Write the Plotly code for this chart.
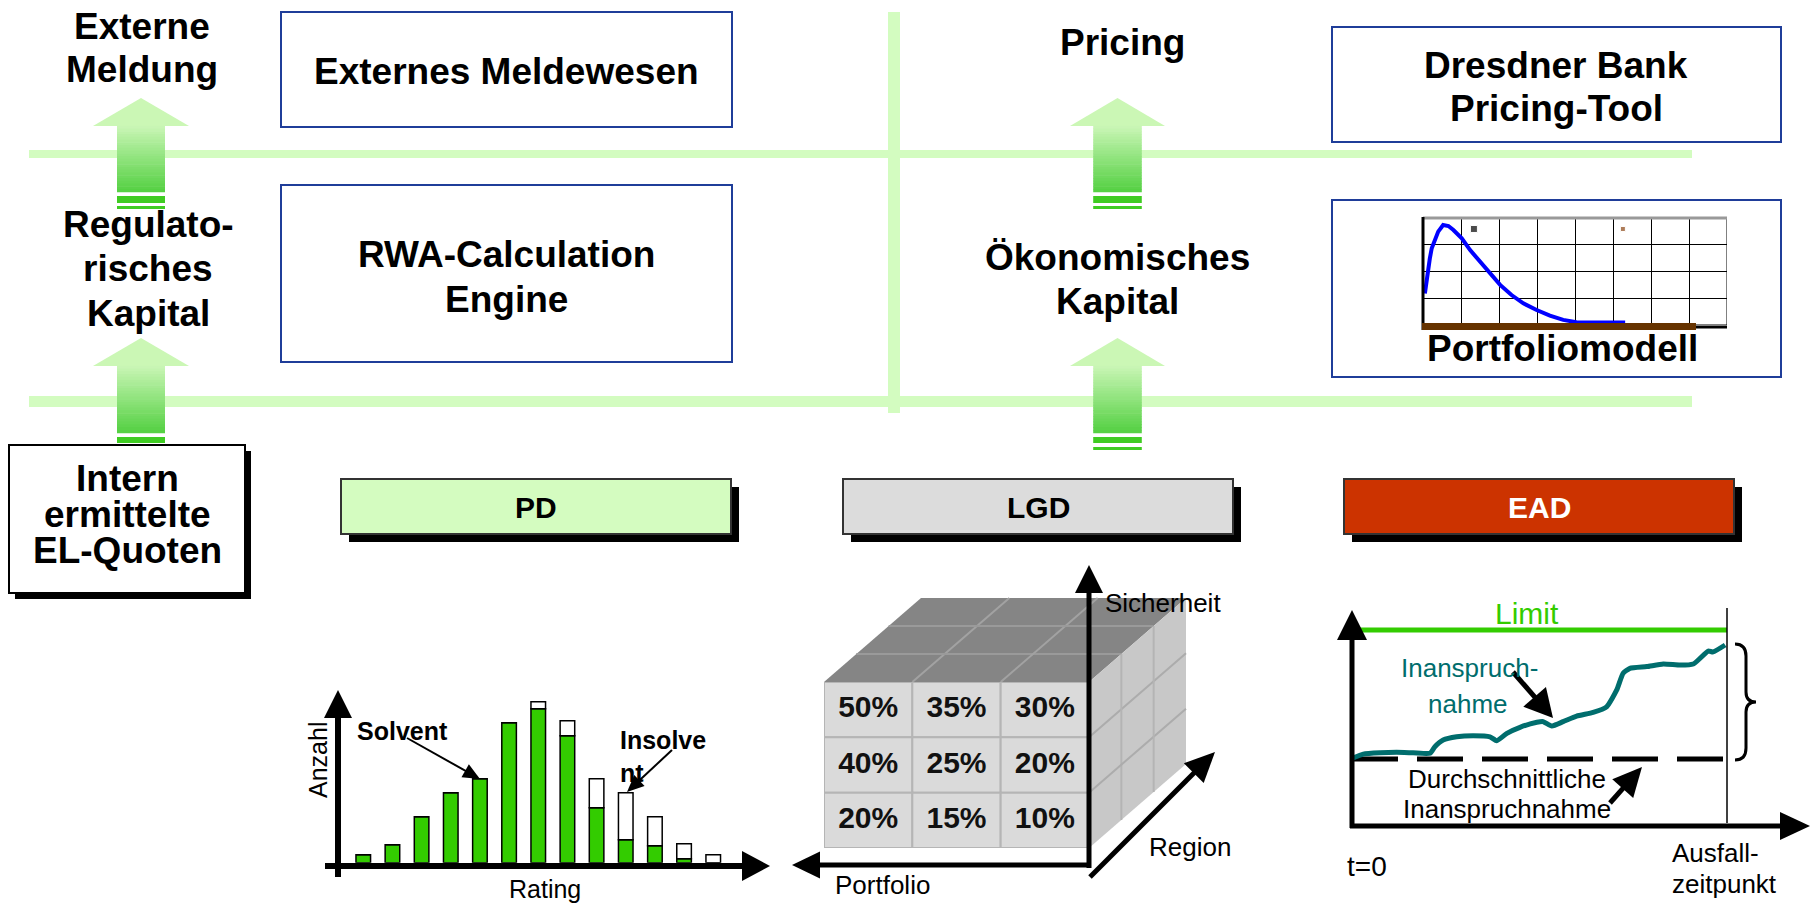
import math
import plotly.graph_objects as go

W, H = 1814, 903

# ---------------- data ----------------
# PD: number of obligors per rating class (solvent / insolvent)
rating_classes = list(range(1, 14))
pd_solvent = [8, 18, 46, 70, 84, 140, 154, 127, 55, 23, 17, 4, 0]
pd_insolvent = [0, 0, 0, 0, 0, 0, 7, 15, 29, 47, 29, 15, 8]

# LGD grid (rows top -> bottom, columns left -> right)
lgd_rows = [[50, 35, 30], [40, 25, 20], [20, 15, 10]]

# EAD: utilisation path between t=0 and the default date
ead_time = [0, 3.0, 7.5, 11.9, 16.3, 20.8, 22.1, 24.3, 27.9, 32.3, 36.8, 38.6,
            41.3, 44.8, 49.3, 51.0, 53.3, 56.3, 59.9, 64.3, 67.9, 70.6, 72.3,
            74.1, 78.6, 83.0, 87.5, 91.0, 92.8, 95.0, 96.3, 99.5]
ead_usage = [31.3, 33.3, 33.9, 34.1, 33.9, 33.7, 36.7, 39.8, 41.3, 41.8, 41.3,
             39.5, 42.9, 45.7, 48.0, 48.3, 46.3, 48.3, 50.9, 52.6, 55.2, 63.0,
             70.7, 73.0, 73.8, 75.0, 74.5, 75.0, 77.6, 81.0, 80.6, 83.8]
ead_limit = 90.7
ead_average = 31.0

# Portfolio model: loss distribution
loss_x = [0.05, 0.10, 0.18, 0.23, 0.32, 0.40, 0.53, 0.67, 0.80, 1.02, 1.24,
          1.50, 1.76, 2.03, 2.33, 2.64, 2.99, 3.34, 3.69, 4.04, 4.48, 5.32]
loss_density = [1.18, 1.74, 2.49, 2.87, 3.24, 3.49, 3.74, 3.70, 3.55, 3.24,
                2.80, 2.37, 1.93, 1.50, 1.12, 0.81, 0.56, 0.35, 0.19, 0.10,
                0.09, 0.09]
marker_x = [1.34, 5.26]
marker_y = [3.59, 3.59]

# ---------------- styling ----------------
FONT = "Liberation Sans, Arial, sans-serif"
BAND = "#d3fcc0"
BLUE_BORDER = "#1f3d99"
GREEN = "#33cc00"
TEAL = "#006d6d"

shapes = []


def rect(x0, y0, x1, y1, fill=None, line=None, lw=0, layer="below", xref="x", yref="y"):
    shapes.append(dict(type="rect", x0=x0, y0=y0, x1=x1, y1=y1, xref=xref, yref=yref,
                       fillcolor=fill if fill else "rgba(0,0,0,0)",
                       line=dict(color=line if line else "rgba(0,0,0,0)", width=lw),
                       layer=layer))


def seg(x0, y0, x1, y1, color, width, layer="below", dash=None, xref="x", yref="y"):
    ln = dict(color=color, width=width)
    if dash:
        ln["dash"] = dash
    shapes.append(dict(type="line", x0=x0, y0=y0, x1=x1, y1=y1, xref=xref, yref=yref,
                       line=ln, layer=layer))


def poly(points, fill, line=None, lw=0, layer="below"):
    path = "M " + " L ".join(f"{x:.2f},{y:.2f}" for x, y in points) + " Z"
    shapes.append(dict(type="path", path=path, xref="x", yref="y", fillcolor=fill,
                       line=dict(color=line if line else "rgba(0,0,0,0)", width=lw),
                       layer=layer))


def arrow(x0, y0, x1, y1, lw, head_len, head_w, color="black", layer="above"):
    dx, dy = x1 - x0, y1 - y0
    L = math.hypot(dx, dy)
    ux, uy = dx / L, dy / L
    bx, by = x1 - ux * head_len, y1 - uy * head_len
    seg(x0, y0, bx + ux * 2, by + uy * 2, color, lw, layer=layer)
    nx, ny = -uy, ux
    poly([(x1, y1), (bx + nx * head_w / 2, by + ny * head_w / 2),
          (bx - nx * head_w / 2, by - ny * head_w / 2)], color, layer=layer)


def mix(c0, c1, t):
    return "rgb(%d,%d,%d)" % tuple(round(a + (b - a) * t) for a, b in zip(c0, c1))


def block_arrow(cx, tip, head_base, head_half, shaft_half, shaft_bottom, stripes):
    poly([(cx, tip), (cx + head_half, head_base), (cx - head_half, head_base)], "#cbf7b5")
    n = 24
    top_c, bot_c = (202, 246, 182), (84, 208, 66)
    step = (shaft_bottom - head_base) / n
    for i in range(n):
        y0 = head_base + i * step
        rect(cx - shaft_half, y0 - 0.3, cx + shaft_half, y0 + step + 0.3,
             fill=mix(top_c, bot_c, (i + 0.5) / n))
    for s0, s1 in stripes:
        rect(cx - shaft_half, s0, cx + shaft_half, s1, fill="#3fcc22")


# ---------------- background structure ----------------
rect(29, 150, 1692, 158, fill=BAND)
rect(29, 396, 1692, 407, fill=BAND)
rect(888, 12, 900, 413, fill=BAND)

for cx, hh, sh in [(141, 48, 24), (1117.5, 47.5, 24.3)]:
    block_arrow(cx, 98, 126, hh, sh, 192, [(196, 203), (206, 209)])
    block_arrow(cx, 338, 366, hh, sh, 433, [(437, 443), (447, 450)])

# blue framed boxes
for x0, y0, x1, y1 in [(281, 12, 732, 127), (281, 185, 732, 362),
                       (1332, 27, 1781, 142), (1332, 200, 1781, 377)]:
    rect(x0, y0, x1, y1, fill="white", line=BLUE_BORDER, lw=2)

# EL box with shadow
rect(15, 451, 251, 599, fill="black")
rect(9, 445, 245, 593, fill="white", line="black", lw=2)

# PD / LGD / EAD header boxes with shadow
for x0, fill in [(341, "#d4fcc0"), (843, "#dcdcdc"), (1344, "#cc3300")]:
    rect(x0 + 8, 487, x0 + 398, 542, fill="black")
    rect(x0, 479, x0 + 390, 534, fill=fill, line="#333333", lw=2)

# ---------------- LGD cube (sides) ----------------
dxv, dyv = 97, -84
fx0, fx1, fy0, fy1 = 824, 1089, 682, 848
poly([(fx0, fy0), (fx1, fy0), (fx1 + dxv, fy0 + dyv), (fx0 + dxv, fy0 + dyv)], "#858585")
poly([(fx1, fy0), (fx1 + dxv, fy0 + dyv), (fx1 + dxv, fy1 + dyv), (fx1, fy1)], "#c8c8c8")
for k in (1, 2):
    # grooves on the top face
    gx = fx0 + (fx1 - fx0) * k / 3
    seg(gx, fy0, gx + dxv, fy0 + dyv, "#a2a2a2", 2)
    ox, oy = dxv * k / 3, dyv * k / 3
    seg(fx0 + ox, fy0 + oy, fx1 + ox, fy0 + oy, "#9a9a9a", 2)
    # grooves on the right face
    gy = fy0 + (fy1 - fy0) * k / 3
    seg(fx1, gy, fx1 + dxv, gy + dyv, "#acacac", 2)
    seg(fx1 + ox, fy0 + oy, fx1 + ox, fy1 + oy, "#b4b4b4", 2)

# LGD front cells
for i, row in enumerate(lgd_rows):
    for j, _ in enumerate(row):
        rect(j, 2 - i, j + 1, 3 - i, fill="#dadada", line="#b5b5b5", lw=2,
             xref="x5", yref="y5")

# LGD axes
arrow(1089, 868, 1089, 565, 5, 28, 28)
arrow(1091, 865, 792, 865, 5, 28, 27)
arrow(1090, 877, 1215, 752, 5, 30, 28)

# ---------------- PD chart axes ----------------
arrow(338, 877, 338, 690, 6, 28, 28)
arrow(325, 866, 770, 866, 6, 28, 30)
arrow(407, 738, 480, 779, 2, 17, 15)
arrow(672, 750, 627, 792, 2, 17, 15)

# ---------------- EAD chart decorations ----------------
seg(1727, 608, 1727, 823, "black", 1.5, layer="above")
arrow(1352, 828, 1352, 610, 5, 30, 30)
arrow(1350, 826, 1810, 826, 5, 30, 28)
arrow(1513, 672, 1553, 718, 5, 28, 30)
arrow(1610, 803, 1642, 767, 5, 29, 28)
shapes.append(dict(type="path", xref="x", yref="y", layer="above",
                   path="M 1735,644 Q 1746,644 1746,656 L 1746,692 Q 1746,702 1756,702 "
                        "Q 1746,702 1746,712 L 1746,748 Q 1746,760 1735,760",
                   line=dict(color="black", width=3)))

# ---------------- portfolio model frame ----------------
rect(0, 0, 8, 4, line="black", lw=1, layer="above", xref="x3", yref="y3")
seg(1423, 218, 1727, 218, "#999999", 3, layer="above")
seg(1423, 327, 1727, 327, "black", 3, layer="above")
seg(1423, 217, 1423, 330, "black", 3, layer="above")
rect(1422, 323, 1696, 330, fill="#663300", layer="above")

# ---------------- traces ----------------
fig = go.Figure()

fig.add_trace(go.Bar(x=rating_classes, y=pd_solvent, width=0.5,
                     marker=dict(color=GREEN, line=dict(color="black", width=1.5)),
                     xaxis="x2", yaxis="y2"))
fig.add_trace(go.Bar(x=rating_classes, y=pd_insolvent, base=pd_solvent, width=0.5,
                     marker=dict(color="white", line=dict(color="black", width=1.5)),
                     xaxis="x2", yaxis="y2"))

fig.add_trace(go.Scatter(x=loss_x, y=loss_density, mode="lines",
                         line=dict(color="#0000ff", width=4),
                         xaxis="x3", yaxis="y3"))
fig.add_trace(go.Scatter(x=marker_x, y=marker_y, mode="markers",
                         marker=dict(symbol="square", size=[7, 5], color=["black", "#8b4513"]),
                         xaxis="x3", yaxis="y3"))

fig.add_trace(go.Scatter(x=[0, 100], y=[ead_limit, ead_limit], mode="lines",
                         line=dict(color=GREEN, width=5), xaxis="x4", yaxis="y4"))
fig.add_trace(go.Scatter(x=[0, 99.5], y=[ead_average, ead_average], mode="lines",
                         line=dict(color="black", width=5, dash="46px,19px"),
                         xaxis="x4", yaxis="y4"))
fig.add_trace(go.Scatter(x=ead_time, y=ead_usage, mode="lines",
                         line=dict(color=TEAL, width=5, shape="spline", smoothing=0.5),
                         xaxis="x4", yaxis="y4"))

cell_x, cell_y, cell_t = [], [], []
for i, row in enumerate(lgd_rows):
    for j, v in enumerate(row):
        cell_x.append(j + 0.5)
        cell_y.append(2.5 - i)
        cell_t.append(f"<b>{v}%</b>")
fig.add_trace(go.Scatter(x=cell_x, y=cell_y, text=cell_t, mode="text",
                         textfont=dict(family=FONT, size=30, color="#111111"),
                         xaxis="x5", yaxis="y5"))

# ---------------- text ----------------
annotations = []


def label(txt, x, y, size, bold=True, color="black", xanchor="center", angle=0):
    annotations.append(dict(text=f"<b>{txt}</b>" if bold else txt, x=x, y=y,
                            xref="x", yref="y", showarrow=False, xanchor=xanchor,
                            yanchor="middle", textangle=angle,
                            font=dict(family=FONT, size=size, color=color)))


label("Externe", 142, 26, 37)
label("Meldung", 142, 69, 37)
label("Regulato-", 148, 224, 37)
label("risches", 148, 268, 37)
label("Kapital", 148, 313, 37)
label("Intern", 127, 478, 37)
label("ermittelte", 127, 514, 37)
label("EL-Quoten", 127, 550, 37)

label("Externes Meldewesen", 506, 71, 37)
label("RWA-Calculation", 506, 254, 37)
label("Engine", 506, 299, 37)

label("Pricing", 1122, 42, 37)
label("Ökonomisches", 1117, 257, 37)
label("Kapital", 1117, 301, 37)

label("Dresdner Bank", 1556, 65, 37)
label("Pricing-Tool", 1556, 108, 37)
label("Portfoliomodell", 1562, 348, 37)

label("PD", 536, 507, 30)
label("LGD", 1038, 507, 30)
label("EAD", 1539, 507, 30, color="white")

label("Anzahl", 318, 760, 25, bold=False, angle=-90)
label("Rating", 545, 889, 25, bold=False)
label("Solvent", 402, 731, 25)
label("Insolve", 618, 740, 25, xanchor="left")
label("nt", 618, 773, 25, xanchor="left")

label("Sicherheit", 1163, 603, 26, bold=False)
label("Region", 1190, 847, 26, bold=False)
label("Portfolio", 882, 885, 26, bold=False)

label("Limit", 1527, 613, 30, bold=False, color=GREEN)
label("Inanspruch-", 1469, 668, 26, bold=False, color=TEAL)
label("nahme", 1468, 704, 26, bold=False, color=TEAL)
label("Durchschnittliche", 1507, 779, 26, bold=False)
label("Inanspruchnahme", 1507, 809, 26, bold=False)
label("t=0", 1367, 866, 28, bold=False)
label("Ausfall-", 1670, 853, 26, bold=False, xanchor="left")
label("zeitpunkt", 1670, 884, 26, bold=False, xanchor="left")


def px_dom_x(a, b):
    return [a / W, b / W]


def px_dom_y(top, bottom):
    return [1 - bottom / H, 1 - top / H]


hidden = dict(visible=False, fixedrange=True)
fig.update_layout(
    width=W, height=H, autosize=False,
    margin=dict(l=0, r=0, t=0, b=0, pad=0),
    paper_bgcolor="white", plot_bgcolor="rgba(0,0,0,0)",
    showlegend=False, barmode="overlay",
    xaxis=dict(range=[0, W], domain=[0, 1], **hidden),
    yaxis=dict(range=[H, 0], domain=[0, 1], **hidden),
    xaxis2=dict(range=[0, 14], domain=px_dom_x(334.1, 742.4), anchor="y2", **hidden),
    yaxis2=dict(range=[0, 180], domain=px_dom_y(682.7, 862.7), anchor="x2", **hidden),
    xaxis3=dict(range=[0, 8], domain=px_dom_x(1423, 1727), anchor="y3", showgrid=True,
                gridcolor="black", gridwidth=1, tick0=0, dtick=1, showticklabels=False,
                ticks="", zeroline=False, showline=False, fixedrange=True),
    yaxis3=dict(range=[0, 4], domain=px_dom_y(218, 325), anchor="x3", showgrid=True,
                gridcolor="black", gridwidth=1, tick0=0, dtick=1, showticklabels=False,
                ticks="", zeroline=False, showline=False, fixedrange=True),
    xaxis4=dict(range=[0, 100], domain=px_dom_x(1352, 1727), anchor="y4", **hidden),
    yaxis4=dict(range=[0, 100], domain=px_dom_y(610, 826), anchor="x4", **hidden),
    xaxis5=dict(range=[0, 3], domain=px_dom_x(824, 1089), anchor="y5", **hidden),
    yaxis5=dict(range=[0, 3], domain=px_dom_y(682, 848), anchor="x5", **hidden),
    shapes=shapes,
    annotations=annotations,
)

fig.write_html("out.html")
